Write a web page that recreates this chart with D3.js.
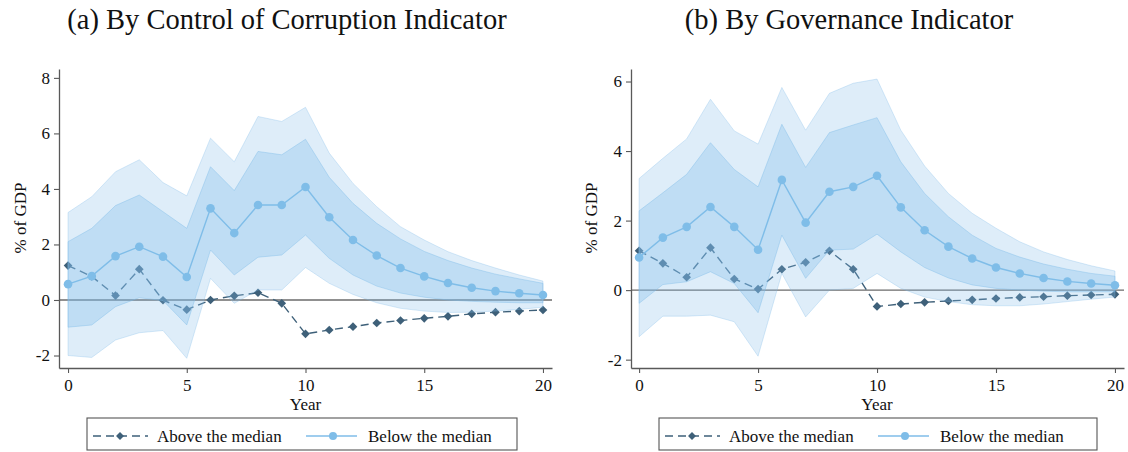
<!DOCTYPE html>
<html>
<head>
<meta charset="utf-8">
<script src="https://cdn.jsdelivr.net/npm/d3@7"></script>
<style>
  html, body { margin: 0; padding: 0; background: #fff; }
  svg { display: block; font-family: "Liberation Serif", "DejaVu Serif", serif; }
</style>
</head>
<body>
<svg id="chart" width="1128" height="452"></svg>
<script>
// ---------- data ----------
const years = [0,1,2,3,4,5,6,7,8,9,10,11,12,13,14,15,16,17,18,19,20];

const titleA = "(a) By Control of Corruption Indicator";
const titleB = "(b) By Governance Indicator";
const yLabel = "% of GDP";
const xLabel = "Year";
const legendLabels = ["Above the median", "Below the median"];

const ticksXA = [0,5,10,15,20];
const ticksYA = [-2,0,2,4,6,8];
const ticksXB = [0,5,10,15,20];
const ticksYB = [-2,0,2,4,6];

// Panel (a)
const aboveA = [1.24,0.85,0.16,1.11,-0.01,-0.35,0.00,0.15,0.26,-0.12,-1.22,-1.08,-0.96,-0.83,-0.74,-0.66,-0.59,-0.50,-0.44,-0.40,-0.36];
const belowA = [0.57,0.86,1.58,1.92,1.56,0.83,3.30,2.41,3.42,3.42,4.07,2.98,2.16,1.60,1.15,0.85,0.61,0.44,0.32,0.24,0.18];
const outerHiA = [3.15,3.72,4.62,5.05,4.23,3.75,5.83,4.98,6.61,6.43,6.94,5.29,4.20,3.36,2.64,2.16,1.74,1.42,1.15,0.90,0.68];
const innerHiA = [2.10,2.58,3.40,3.78,3.18,2.58,4.80,3.94,5.35,5.23,5.79,4.42,3.48,2.76,2.20,1.75,1.42,1.15,0.93,0.76,0.60];
const innerLoA = [-0.98,-0.90,-0.24,0.08,-0.02,-0.90,1.80,0.90,1.54,1.62,2.34,1.50,0.90,0.50,0.25,0.10,0.00,-0.05,-0.08,-0.10,-0.10];
const outerLoA = [-2.00,-2.07,-1.44,-1.18,-1.10,-2.10,0.78,-0.12,0.36,0.36,1.17,0.60,0.20,-0.10,-0.30,-0.40,-0.45,-0.44,-0.40,-0.34,-0.26];

// Panel (b)
const aboveB = [1.13,0.77,0.37,1.22,0.32,0.03,0.60,0.80,1.13,0.60,-0.47,-0.40,-0.35,-0.31,-0.28,-0.24,-0.21,-0.19,-0.16,-0.14,-0.12];
const belowB = [0.94,1.51,1.82,2.39,1.82,1.16,3.17,1.94,2.83,2.97,3.29,2.38,1.72,1.25,0.91,0.65,0.48,0.35,0.25,0.19,0.14];
const outerHiB = [3.21,3.79,4.35,5.49,4.58,4.20,5.83,4.60,5.66,5.95,6.07,4.60,3.57,2.78,2.21,1.78,1.39,1.10,0.88,0.70,0.55];
const innerHiB = [2.28,2.80,3.33,4.24,3.47,2.97,4.77,3.53,4.53,4.75,4.96,3.69,2.78,2.11,1.58,1.20,0.95,0.75,0.60,0.48,0.40];
const innerLoB = [-0.38,0.16,0.24,0.53,0.19,-0.65,1.58,0.34,1.15,1.18,1.61,1.10,0.65,0.35,0.15,0.05,0.00,-0.03,-0.05,-0.05,-0.05];
const outerLoB = [-1.34,-0.75,-0.75,-0.72,-0.91,-1.90,0.48,-0.77,0.00,0.05,0.48,0.05,-0.20,-0.33,-0.42,-0.45,-0.45,-0.40,-0.33,-0.26,-0.20];

// ---------- drawing ----------
const svg = d3.select("#chart");
const C_BAND = "#7ebbe9";
const C_BELOW = "#7fbde8";
const C_ABOVE = "#3e6079";
const C_AXIS = "#595959";

function drawPanel(p) {
  const g = svg.append("g");
  const x = d3.scaleLinear().domain(p.xDomain).range(p.xRange);
  const y = d3.scaleLinear().domain(p.yDomain).range(p.yRange);

  // title
  g.append("text").attr("x", p.titleX).attr("y", 29)
    .attr("text-anchor", "middle").attr("font-size", 28.5).attr("fill", "#111")
    .text(p.title);

  // zero line
  g.append("line")
    .attr("x1", x(p.xDomain[0])).attr("x2", x(p.xDomain[1]))
    .attr("y1", y(0)).attr("y2", y(0))
    .attr("stroke", "#6b6b6b").attr("stroke-width", 1.3);

  const lineGen = d3.line().x((d, i) => x(years[i])).y(d => y(d));

  // above-median (drawn under the bands)
  g.append("path").datum(p.above)
    .attr("d", lineGen).attr("fill", "none")
    .attr("stroke", C_ABOVE).attr("stroke-width", 1.4)
    .attr("stroke-dasharray", "8,5");
  const sym = d3.symbol().type(d3.symbolDiamond2).size(48);
  g.selectAll(".dia").data(p.above).join("path")
    .attr("transform", (d, i) => `translate(${x(years[i])},${y(d)})`)
    .attr("d", sym).attr("fill", C_ABOVE);

  // bands
  const area = (lo, hi) => d3.area()
    .x((d, i) => x(years[i])).y0((d, i) => y(lo[i])).y1((d, i) => y(hi[i]))(years);
  g.append("path").attr("d", area(p.outerLo, p.outerHi))
    .attr("fill", C_BAND).attr("fill-opacity", 0.26)
    .attr("stroke", C_BAND).attr("stroke-opacity", 0.3).attr("stroke-width", 1);
  g.append("path").attr("d", area(p.innerLo, p.innerHi))
    .attr("fill", C_BAND).attr("fill-opacity", 0.33)
    .attr("stroke", C_BAND).attr("stroke-opacity", 0.4).attr("stroke-width", 1);

  // below-median
  g.append("path").datum(p.below)
    .attr("d", lineGen).attr("fill", "none")
    .attr("stroke", C_BELOW).attr("stroke-width", 1.4);
  g.selectAll(".cir").data(p.below).join("circle")
    .attr("cx", (d, i) => x(years[i])).attr("cy", d => y(d))
    .attr("r", 4.3).attr("fill", C_BELOW);

  // axes
  const fmt = d => String(d);
  const ax = g.append("g").attr("transform", `translate(0,${p.yRange[0]})`)
    .call(d3.axisBottom(x).tickValues(p.xTicks).tickFormat(fmt).tickSize(5).tickSizeOuter(0).tickPadding(6));
  const ay = g.append("g").attr("transform", `translate(${p.xRange[0]},0)`)
    .call(d3.axisLeft(y).tickValues(p.yTicks).tickFormat(fmt).tickSize(5).tickSizeOuter(0).tickPadding(4));
  [ax, ay].forEach(a => {
    a.select(".domain").attr("stroke", C_AXIS).attr("stroke-width", 1.3);
    a.selectAll(".tick line").attr("stroke", C_AXIS).attr("stroke-width", 1.1);
    a.selectAll(".tick text").attr("font-family", "Liberation Serif, serif")
      .attr("font-size", 17).attr("fill", "#111");
  });

  // axis titles
  g.append("text").attr("x", x(10)).attr("y", 410)
    .attr("text-anchor", "middle").attr("font-size", 17).attr("fill", "#111")
    .text(xLabel);
  g.append("text")
    .attr("transform", `translate(${p.yLabelX},218) rotate(-90)`)
    .attr("text-anchor", "middle").attr("font-size", 17).attr("fill", "#111")
    .text(yLabel);

  // legend
  const L = p.legend;
  g.append("rect").attr("x", L.x).attr("y", 418).attr("width", L.w).attr("height", 32)
    .attr("fill", "#fff").attr("stroke", "#555").attr("stroke-width", 1.1);
  const ly = 436;
  g.append("line").attr("x1", L.x + 6).attr("x2", L.x + 61).attr("y1", ly).attr("y2", ly)
    .attr("stroke", C_ABOVE).attr("stroke-width", 1.4).attr("stroke-dasharray", "8,5");
  g.append("path").attr("transform", `translate(${L.x + 33},${ly})`)
    .attr("d", d3.symbol().type(d3.symbolDiamond2).size(40)).attr("fill", C_ABOVE);
  g.append("text").attr("x", L.x + 70).attr("y", ly + 6).attr("font-size", 17).attr("fill", "#111")
    .text(legendLabels[0]);
  g.append("line").attr("x1", L.x + 219).attr("x2", L.x + 270).attr("y1", ly).attr("y2", ly)
    .attr("stroke", C_BELOW).attr("stroke-width", 1.4);
  g.append("circle").attr("cx", L.x + 246).attr("cy", ly).attr("r", 4).attr("fill", C_BELOW);
  g.append("text").attr("x", L.x + 281).attr("y", ly + 6).attr("font-size", 17).attr("fill", "#111")
    .text(legendLabels[1]);
}

drawPanel({
  title: titleA, titleX: 287,
  xDomain: [-0.38, 20.38], xRange: [59, 552],
  yDomain: [-2.45, 8.32], yRange: [368, 69],
  xTicks: ticksXA, yTicks: ticksYA, yLabelX: 26,
  above: aboveA, below: belowA,
  outerHi: outerHiA, innerHi: innerHiA, innerLo: innerLoA, outerLo: outerLoA,
  legend: { x: 87, w: 430 }
});

drawPanel({
  title: titleB, titleX: 849,
  xDomain: [-0.34, 20.38], xRange: [631, 1124],
  yDomain: [-2.24, 6.36], yRange: [368, 69],
  xTicks: ticksXB, yTicks: ticksYB, yLabelX: 597,
  above: aboveB, below: belowB,
  outerHi: outerHiB, innerHi: innerHiB, innerLo: innerLoB, outerLo: outerLoB,
  legend: { x: 659, w: 438 }
});
</script>
</body>
</html>
